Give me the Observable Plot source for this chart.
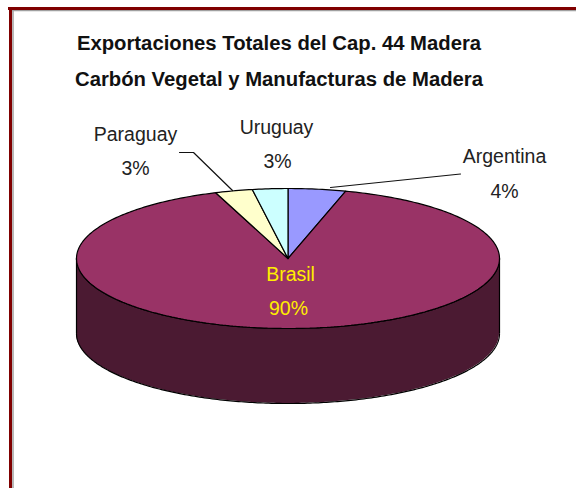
<!DOCTYPE html>
<html>
<head>
<meta charset="utf-8">
<script src="https://cdn.jsdelivr.net/npm/d3@7"></script>
<script src="https://cdn.jsdelivr.net/npm/@observablehq/plot@0.6"></script>
<style>
html,body{margin:0;padding:0;background:#fff}
svg{display:block}
</style>
</head>
<body>
<div id="chart"></div>
<script>
// Data, clockwise from the top of the pie
const names = ["Argentina", "Brasil", "Paraguay", "Uruguay"];
const shares = [4.4, 90.05, 2.85, 2.7];
const percentLabels = ["4%", "90%", "3%", "3%"];
const colors = ["#9999ff", "#993366", "#ffffcc", "#ccffff"];
const titleLines = ["Exportaciones Totales del Cap. 44 Madera", "Carbón Vegetal y Manufacturas de Madera"];

// Layout
const W = 576, H = 488;
const cx = 287.5, cy = 258, rx = 211.5, ry = 70, depth = 75;
const sideColor = "#4b1a32", frameColor = "#800000";
const px = a => cx + rx * Math.sin(a);
const py = a => cy - ry * Math.cos(a);

// Wedges built from the shares
const total = d3.sum(shares);
let cum = 0;
const wedgePts = [];
names.forEach((name, i) => {
  const a0 = cum / total * 2 * Math.PI;
  cum += shares[i];
  const a1 = cum / total * 2 * Math.PI;
  const n = Math.max(4, Math.ceil((a1 - a0) * 60));
  wedgePts.push({name, x: cx, y: cy});
  for (let k = 0; k <= n; k++) {
    const a = a0 + (a1 - a0) * k / n;
    wedgePts.push({name, x: px(a), y: py(a)});
  }
  wedgePts.push({name, x: cx, y: cy});
});

// Front wall of the disc
const side = d3.range(0, 241).map(k => {
  const a = Math.PI / 2 + Math.PI * k / 240;
  return {x: px(a), y1: py(a), y2: py(a) + depth};
});

const labels = [
  {t: "Paraguay", x: 135, y: 134, f: "#222"},
  {t: percentLabels[2], x: 135, y: 168, f: "#222"},
  {t: "Uruguay", x: 276, y: 127, f: "#222"},
  {t: percentLabels[3], x: 277, y: 161, f: "#222"},
  {t: "Argentina", x: 504, y: 156, f: "#222"},
  {t: percentLabels[0], x: 504, y: 191, f: "#222"},
  {t: "Brasil", x: 290, y: 274, f: "#ffee00"},
  {t: percentLabels[1], x: 288, y: 308, f: "#ffee00"}
];
const titles = [
  {t: titleLines[0], x: 278.5, y: 43},
  {t: titleLines[1], x: 278.5, y: 79}
];
const leaders = [
  {id: "p", x: 179, y: 152}, {id: "p", x: 193, y: 152}, {id: "p", x: 232, y: 190},
  {id: "a", x: 330, y: 187}, {id: "a", x: 460, y: 173.5}
];

const plot = Plot.plot({
  width: W, height: H,
  margin: 0,
  x: {domain: [0, W], range: [0, W], axis: null},
  y: {domain: [0, H], range: [0, H], axis: null},
  color: {domain: names, range: colors},
  style: {background: "#fff"},
  marks: [
    // frame
    Plot.ruleY([10], {x1: 9, x2: W, stroke: "#a0a0a0", strokeWidth: 1.5}),
    Plot.ruleX([12.5], {y1: 8, y2: H, stroke: "#a0a0a0", strokeWidth: 1.5}),
    Plot.ruleY([8], {x1: 8, x2: W, stroke: frameColor, strokeWidth: 3}),
    Plot.ruleX([10], {y1: 7, y2: H, stroke: frameColor, strokeWidth: 3}),
    // wall
    Plot.areaY(side, {x: "x", y1: "y1", y2: "y2", fill: sideColor}),
    Plot.line(side, {x: "x", y: "y2", stroke: "#000", strokeWidth: 1.2}),
    Plot.line(side, {x: "x", y: "y1", stroke: "#000", strokeWidth: 1.2}),
    Plot.ruleX([cx - rx, cx + rx], {y1: cy, y2: cy + depth, stroke: "#000", strokeWidth: 1.2}),
    // top
    Plot.line(wedgePts, {x: "x", y: "y", z: "name", fill: "name", stroke: "#000", strokeWidth: 1.2, strokeLinejoin: "miter"}),
    // leaders
    Plot.line(leaders, {x: "x", y: "y", z: "id", stroke: "#111", strokeWidth: 1.2}),
    // text
    Plot.text(titles, {x: "x", y: "y", text: "t", fontFamily: "Liberation Sans", fontWeight: 700, fontSize: 20.3, fill: "#111"}),
    Plot.text(labels, {x: "x", y: "y", text: "t", fill: "f", fontFamily: "Liberation Sans", fontSize: 19.5})
  ]
});
document.getElementById("chart").append(plot);
</script>
</body>
</html>
